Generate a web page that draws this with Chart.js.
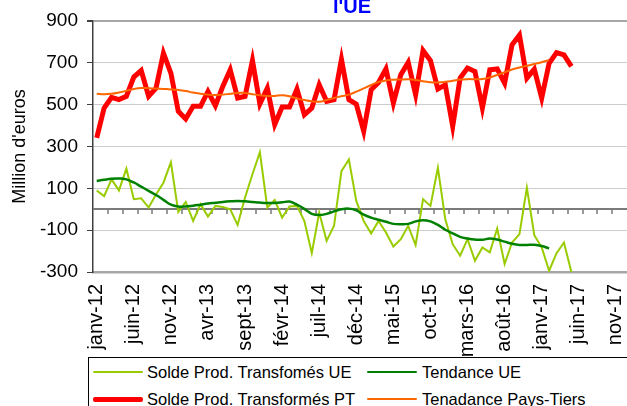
<!DOCTYPE html>
<html>
<head>
<meta charset="utf-8">
<script src="https://cdn.jsdelivr.net/npm/chart.js@4.4.0/dist/chart.umd.min.js"></script>
<style>
  body { margin: 0; background: #fff; font-family: "Liberation Sans", Arial, sans-serif; }
  #wrap { position: relative; width: 627px; height: 406px; overflow: hidden; }
  #titre { position: absolute; left: 252px; width: 200px; top: -4px; text-align: center;
           font-weight: bold; font-size: 20px; line-height: 20px; color: #0000ff; }
  #legende { position: absolute; left: 88px; top: 357px; width: 600px; height: 70px;
             border: 1px solid #000; box-sizing: border-box; }
  .trait { position: absolute; height: 0; border-radius: 2px; }
  .nom { position: absolute; font-size: 16.5px; line-height: 20px; color: #000; white-space: nowrap; }
</style>
</head>
<body>
<div id="wrap">
  <canvas id="graphe" width="627" height="357"></canvas>
  <div id="titre">l'UE</div>
  <div id="legende"></div>
</div>
<script>
// categories : janv-12 ... déc-17
const mois = ['janv', 'févr', 'mars', 'avr', 'mai', 'juin', 'juil', 'août', 'sept', 'oct', 'nov', 'déc'];
const categories = [];
for (let a = 12; a <= 17; a++) {
  for (const m of mois) categories.push(m + '-' + a);
}

// valeurs (millions d'euros)
const soldeUE = [90, 63, 143, 90, 194, 48, 52, 8, 71, 127,
  225, -13, 35, -56, 24, -35, 16, 11, 0, -75,
  56, 167, 273, 8, 44, -40, 13, 16, -56, -210,
  -16, -151, -79, 182, 238, 40, -56, -116, -56, -111,
  -178, -143, -79, -171, 48, 16, 198, -48, -167, -222,
  -143, -246, -183, -206, -92, -262, -159, -119, 103, -124,
  -183, -294, -210, -159, -300];

const tendanceUE = [135, 141, 146, 147, 143, 128, 108, 88, 68, 45,
  22, 13, 13, 17, 22, 27, 31, 35, 38, 40,
  38, 35, 32, 30, 30, 33, 37, 22, 2, -22,
  -28, -22, -10, 0, 3, -5, -26, -40, -50, -60,
  -70, -72, -70, -58, -52, -58, -75, -98, -115, -132,
  -140, -145, -146, -140, -145, -155, -165, -171, -171, -170,
  -176, -187];

const soldePT = [341, 484, 535, 524, 540, 632, 663, 540, 579, 746,
  651, 468, 432, 492, 492, 563, 495, 587, 667, 532,
  540, 711, 503, 579, 405, 489, 489, 575, 452, 484,
  595, 516, 524, 717, 524, 503, 373, 571, 606, 671,
  508, 643, 702, 548, 759, 711, 575, 595, 397, 627,
  675, 659, 484, 667, 671, 603, 786, 833, 627, 670,
  532, 698, 749, 738, 683];

const tendancePT = [552, 550, 552, 558, 566, 575, 580, 579, 577, 575,
  573, 570, 565, 558, 552, 548, 546, 548, 552, 556,
  556, 550, 545, 542, 542, 545, 540, 530, 522, 516,
  514, 522, 532, 540, 548, 562, 578, 594, 608, 616,
  619, 620, 621, 618, 612, 607, 606, 609, 614, 620,
  622, 622, 623, 630, 642, 655, 668, 678, 686, 694,
  703, 714];

const yTicks = [-300, -100, 100, 300, 500, 700, 900];

const series = [
  { label: 'Solde Prod. Transfomés UE', data: soldeUE, color: '#99cc00', width: 2, order: 4, tension: 0 },
  { label: 'Tendance UE', data: tendanceUE, color: '#008000', width: 2.5, order: 3, tension: 0.4 },
  { label: 'Solde Prod. Transformés PT', data: soldePT, color: '#ff0000', width: 5, order: 2, tension: 0 },
  { label: 'Tenadance Pays-Tiers', data: tendancePT, color: '#ff6600', width: 2, order: 1, tension: 0.4 }
];

// axe horizontal qui passe par zéro, avec ses graduations
const axeZero = {
  id: 'axeZero',
  beforeDatasetsDraw(chart) {
    const x = chart.scales.x, y = chart.scales.y, ctx = chart.ctx;
    const y0 = Math.round(y.getPixelForValue(0));
    ctx.save();
    ctx.strokeStyle = '#7a7a7a';
    ctx.lineWidth = 2;
    ctx.beginPath();
    ctx.moveTo(x.left, y0);
    ctx.lineTo(x.right, y0);
    ctx.stroke();
    ctx.lineWidth = 1.5;
    ctx.beginPath();
    for (let k = 2; k < categories.length; k += 2) {
      const px = Math.round(x.getPixelForValue(k - 0.5));
      ctx.moveTo(px, y0);
      ctx.lineTo(px, y0 + 5);
    }
    ctx.stroke();
    ctx.restore();
  }
};

const police = "'Liberation Sans', Arial, sans-serif";

new Chart(document.getElementById('graphe'), {
  type: 'line',
  data: {
    labels: categories,
    datasets: series.map(s => ({
      label: s.label,
      data: s.data,
      borderColor: s.color,
      backgroundColor: s.color,
      borderWidth: s.width,
      pointRadius: 0,
      tension: s.tension,
      order: s.order,
      fill: false
    }))
  },
  options: {
    responsive: false,
    animation: false,
    layout: { padding: { top: 21, right: 0, bottom: 0, left: 0 } },
    plugins: { legend: { display: false }, tooltip: { enabled: false } },
    scales: {
      x: {
        offset: true,
        grid: { display: false, drawTicks: false },
        border: { display: true, color: '#a6a6a6', width: 2.5 },
        ticks: {
          autoSkip: false, maxRotation: 90, minRotation: 90, padding: 12,
          color: '#000', font: { family: police, size: 20 },
          callback: (v, i) => (i % 5 === 0 ? categories[i] : '')
        },
        afterFit: s => { s.height = 85; s.paddingLeft = 0; s.paddingRight = 0; }
      },
      y: {
        min: yTicks[0],
        max: yTicks[yTicks.length - 1],
        ticks: {
          stepSize: yTicks[1] - yTicks[0], padding: 9,
          color: '#000', font: { family: police, size: 19 }
        },
        grid: {
          color: c => (c.tick && (c.tick.value === 900 || c.tick.value === -300)) ? '#a6a6a6' : '#cccccc',
          lineWidth: c => (c.tick && c.tick.value === 900) ? 2 : 1,
          tickColor: '#404040', tickLength: 6
        },
        border: { color: '#404040', width: 1.5 },
        title: {
          display: true, text: "Million d'euros", color: '#000',
          font: { family: police, size: 18 }, padding: { top: 9, bottom: 0 }
        },
        afterFit: s => { s.width = 93; }
      }
    }
  },
  plugins: [axeZero]
});

// légende sur deux colonnes, dans un cadre
const legende = document.getElementById('legende');
const colonnes = [{ trait: 4, texte: 58 }, { trait: 278, texte: 333 }];
const lignes = [14, 41];
series.forEach((s, i) => {
  const col = colonnes[i % 2], ligne = lignes[Math.floor(i / 2)];
  const t = document.createElement('div');
  t.className = 'trait';
  t.style.left = col.trait + 'px';
  t.style.width = '50px';
  t.style.top = (ligne - s.width / 2) + 'px';
  t.style.borderTop = s.width + 'px solid ' + s.color;
  legende.appendChild(t);
  const n = document.createElement('div');
  n.className = 'nom';
  n.style.left = col.texte + 'px';
  n.style.top = (ligne - 10) + 'px';
  n.textContent = s.label;
  legende.appendChild(n);
});
</script>
</body>
</html>
